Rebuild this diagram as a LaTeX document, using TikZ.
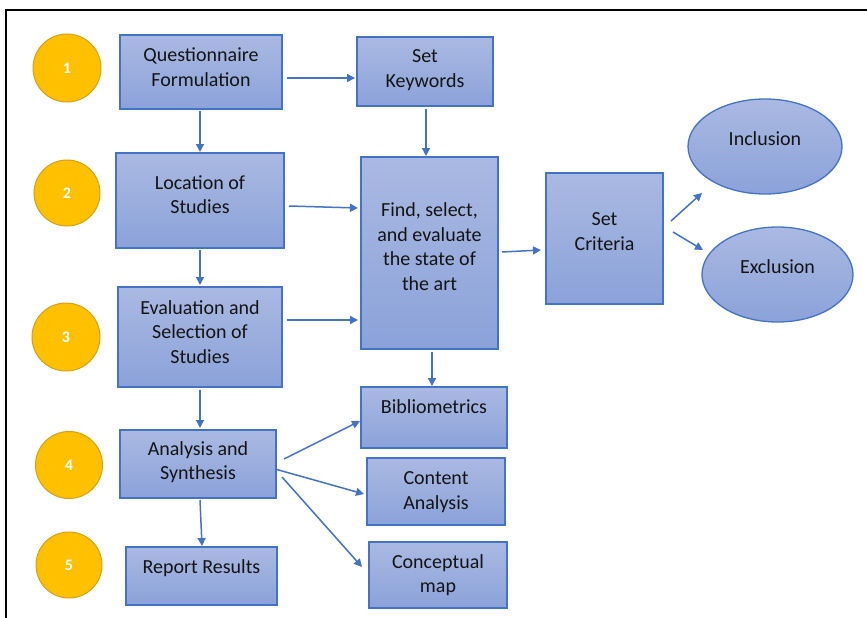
\documentclass[tikz,border=0pt]{standalone}
\usepackage{fontspec}
\setmainfont{Carlito}
\usetikzlibrary{arrows.meta,shapes.geometric,calc}
\definecolor{bline}{HTML}{4472C4}
\definecolor{btop}{HTML}{AAB9E2}
\definecolor{bbot}{HTML}{8BA2D9}
\definecolor{gold}{HTML}{FFC000}
\definecolor{goldline}{HTML}{D4A017}
\definecolor{txtc}{HTML}{141414}
\tikzset{
  box/.style={draw=bline, line width=1.3pt, top color=btop, bottom color=bbot, inner sep=0pt, outer sep=0pt},
  oval/.style={ellipse, draw=bline, line width=1.3pt, top color=btop, bottom color=bbot, inner sep=0pt, outer sep=0pt},
  numc/.style={circle, draw=goldline, line width=1pt, fill=gold, inner sep=0pt, outer sep=0pt, text=white, font=\fontsize{16}{19}\selectfont\bfseries},
  txt/.style={align=center, text=txtc, font=\fontsize{20}{24.5}\selectfont, inner sep=0pt},
  arr/.style={draw=bline, line width=1.5pt, -{Triangle[length=8pt,width=8pt]}}
}
\begin{document}
\begin{tikzpicture}[x=1pt,y=-1pt]
\useasboundingbox (0,0) rectangle (867,618);
\fill[white] (0,0) rectangle (867,618);
\draw[line width=2.5pt, black] (6,618) -- (6,10) -- (867,10);

% number circles
\node[numc, minimum size=68] (c1) at (67,68) {1};
\node[numc, minimum size=66] (c2) at (67,193) {2};
\node[numc, minimum size=68] (c3) at (66,337) {3};
\node[numc, minimum size=67] (c4) at (69,465) {4};
\node[numc, minimum size=66] (c5) at (69,565) {5};

% boxes
\node[box, minimum width=162, minimum height=74] (q) at (201,72) {};
\node[txt] (qt) at ($(q.center)+(0,-5)$) {Questionnaire\\Formulation};
\node[box, minimum width=168, minimum height=95] (loc) at (200,200.5) {};
\node[txt] (loct) at ($(loc.center)+(0,-6)$) {Location of\\Studies};
\node[box, minimum width=164, minimum height=100] (ev) at (200,337) {};
\node[txt] (evt) at ($(ev.center)+(0,-5)$) {Evaluation and\\Selection of\\Studies};
\node[box, minimum width=156, minimum height=68] (an) at (198,464) {};
\node[txt] (ant) at ($(an.center)+(0,-2)$) {Analysis and\\Synthesis};
\node[box, minimum width=151, minimum height=58] (rr) at (201.5,576) {};
\node[txt] (rrt) at ($(rr.center)+(0,-8)$) {Report Results};

\node[box, minimum width=136, minimum height=69] (kw) at (425,71.5) {};
\node[txt] (kwt) at ($(kw.center)+(0,-1.5)$) {Set\\Keywords};
\node[box, minimum width=137, minimum height=192] (find) at (429.5,253) {};
\node[txt] (findt) at ($(find.center)+(0,-6.5)$) {Find, select,\\and evaluate\\the state of\\the art};
\node[box, minimum width=117, minimum height=131] (crit) at (604.5,238.5) {};
\node[txt] (critt) at ($(crit.center)+(0,-7)$) {Set\\Criteria};

\node[oval, minimum width=154, minimum height=95] (incl) at (765,146.5) {};
\node[txt] (inclt) at ($(incl.center)+(0,-7.5)$) {Inclusion};
\node[oval, minimum width=151, minimum height=95] (excl) at (777.5,274.5) {};
\node[txt] (exclt) at ($(excl.center)+(0,-7.5)$) {Exclusion};

\node[box, minimum width=146, minimum height=61] (bib) at (434,417.5) {};
\node[txt] (bibt) at ($(bib.center)+(0,-10.5)$) {Bibliometrics};
\node[box, minimum width=138, minimum height=67] (con) at (436,491.5) {};
\node[txt] (cont) at ($(con.center)+(0,0.5)$) {Content\\Analysis};
\node[box, minimum width=138, minimum height=66] (map) at (438,575) {};
\node[txt] (mapt) at ($(map.center)+(0,0)$) {Conceptual\\map};

% arrows
\draw[arr] ($(q.east)+(5,6)$) -- ($(kw.west)+(-2,6.5)$);
\draw[arr] ($(q.south)+(-1,2)$) -- ($(loc.north)+(0,-1)$);
\draw[arr] ($(kw.south)+(1,3)$) -- ($(find.north)+(-3.5,-1)$);
\draw[arr] ($(loc.east)+(5,5.5)$) -- ($(find.west)+(-3,-45)$);
\draw[arr] ($(ev.east)+(5,-17)$) -- ($(find.west)+(-3,67)$);
\draw[arr] ($(loc.south)+(0,2)$) -- ($(ev.north)+(0,-2)$);
\draw[arr] ($(ev.south)+(0,3)$) -- ($(an.north)+(2,-2)$);
\draw[arr] ($(find.east)+(4,-1)$) -- ($(crit.west)+(-5,11.5)$);
\draw[arr] ($(find.south)+(2.5,3)$) -- ($(bib.north)+(-2,-1)$);
\draw[arr] ($(crit.east)+(8,-17.5)$) -- ($(incl.center)+(-63,46.5)$);
\draw[arr] ($(crit.east)+(10,-6.5)$) -- ($(excl.center)+(-74.5,-24.5)$);
\draw[arr] ($(an.east)+(8,-5)$) -- ($(bib.west)+(-1,3.5)$);
\draw[arr] ($(an.east)+(-1,5)$) -- ($(con.west)+(-3,2.5)$);
\draw[arr] ($(an.east)+(6,13)$) -- ($(map.west)+(-7,-8)$);
\draw[arr] ($(an.south)+(2,2)$) -- ($(rr.north)+(0.5,-1)$);
\end{tikzpicture}
\end{document}
